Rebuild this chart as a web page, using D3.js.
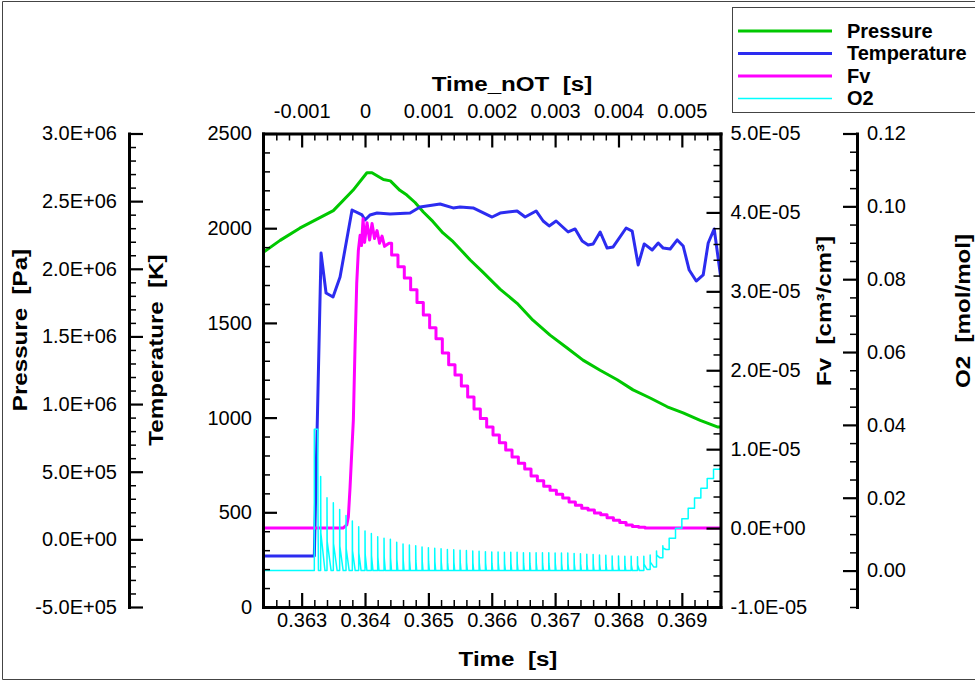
<!DOCTYPE html>
<html>
<head>
<meta charset="utf-8">
<script src="https://cdn.jsdelivr.net/npm/d3@7"></script>
<style>
  body { margin: 0; background: #fff; }
  svg { display: block; font-family: "Liberation Sans", Arial, Helvetica, sans-serif; }
</style>
</head>
<body>
<svg id="chart" width="975" height="682"></svg>
<script>
// ---------------- data ----------------
const timeDomain = [0.36239, 0.36961];   // s
const nOTOffset = 0.364;                  // Time_nOT = Time - offset

// Pressure [Pa]
const pressureTime = [0.36239, 0.36266, 0.36297, 0.36350, 0.36381, 0.36403, 0.36411, 0.36429,
  0.36440, 0.36455, 0.36466, 0.36479, 0.36492, 0.36507, 0.36523, 0.36539, 0.36555, 0.36566,
  0.36586, 0.36613, 0.36640, 0.36665, 0.36692, 0.36719, 0.36744, 0.36771, 0.36798, 0.36823,
  0.36850, 0.36877, 0.36902, 0.36929, 0.36957, 0.36961];
const pressureValue = [2.12e6, 2.21e6, 2.30e6, 2.43e6, 2.58e6, 2.71e6, 2.71e6, 2.66e6,
  2.65e6, 2.58e6, 2.545e6, 2.49e6, 2.42e6, 2.35e6, 2.265e6, 2.20e6, 2.12e6, 2.065e6,
  1.975e6, 1.85e6, 1.745e6, 1.62e6, 1.51e6, 1.415e6, 1.325e6, 1.25e6, 1.18e6, 1.105e6,
  1.045e6, 0.98e6, 0.935e6, 0.88e6, 0.83e6, 0.83e6];

// Temperature [K]
const temperatureTime = [0.36239, 0.36320, 0.363306, 0.363385, 0.363495, 0.363606, 0.363795,
  0.363953, 0.364000, 0.364079, 0.364190, 0.364395, 0.364711, 0.364869, 0.365185, 0.365390,
  0.365500, 0.365706, 0.366006, 0.366132, 0.366400, 0.366527, 0.366700, 0.366811, 0.366906,
  0.367016, 0.367206, 0.367316, 0.367427, 0.367521, 0.367600, 0.367711, 0.367821, 0.367916,
  0.368121, 0.368216, 0.368311, 0.368406, 0.368532, 0.368627, 0.368706, 0.368816, 0.368927,
  0.369021, 0.369116, 0.369227, 0.369337, 0.369416, 0.369511, 0.369613];
const temperatureValue = [269, 269, 1869, 1658, 1637, 1742, 2096,
  2070, 2043, 2070, 2080, 2075, 2080, 2112, 2128, 2107,
  2112, 2107, 2059, 2080, 2091, 2059, 2091, 2038, 2012,
  2038, 1980, 1996, 1932, 1911, 1917, 1980, 1895, 1901,
  2001, 1985, 1806, 1917, 1885, 1922, 1895, 1890, 1938,
  1906, 1779, 1721, 1753, 1922, 1996, 1742];

// Fv [cm3/cm3]: ramp and jagged peak, then one level per output interval
const fvRampTime = [0.36239, 0.363653, 0.363712, 0.363737, 0.363764, 0.363790, 0.363816,
  0.363843, 0.363869, 0.363895, 0.363922, 0.363945, 0.363969, 0.363993, 0.364032, 0.364072,
  0.364111, 0.364150, 0.364190, 0.364229, 0.364269, 0.364308, 0.364379];
const fvRampValue = [0, 0, 0.04e-5, 0.14e-5, 0.52e-5, 0.95e-5, 1.37e-5,
  2.32e-5, 3.10e-5, 3.52e-5, 3.71e-5, 3.58e-5, 3.92e-5, 3.62e-5, 3.87e-5, 3.65e-5,
  3.86e-5, 3.67e-5, 3.77e-5, 3.61e-5, 3.70e-5, 3.57e-5, 3.61e-5];
const fvStepStart = 0.36442;
const fvStepInterval = 0.0001;
const fvStepValue = [3.46e-5, 3.31e-5, 3.17e-5, 3.02e-5, 2.86e-5, 2.70e-5, 2.54e-5, 2.40e-5,
  2.22e-5, 2.07e-5, 1.94e-5, 1.80e-5, 1.66e-5, 1.51e-5, 1.39e-5, 1.28e-5, 1.18e-5, 1.08e-5,
  0.99e-5, 0.90e-5, 0.82e-5, 0.75e-5, 0.66e-5, 0.60e-5, 0.53e-5, 0.48e-5, 0.43e-5, 0.38e-5,
  0.33e-5, 0.29e-5, 0.25e-5, 0.23e-5, 0.19e-5, 0.17e-5, 0.13e-5, 0.10e-5, 0.07e-5, 0.04e-5,
  0.02e-5, 0.01e-5, 0];

// O2 [mol/mol]: one pulse per output interval (peak, level it relaxes to, hold and tail as fraction of interval)
const o2PulseStart = 0.3632;
const o2PulseInterval = 0.0001;
const o2Peak = [0.0388, 0.0258, 0.0200, 0.0186, 0.0168, 0.0151, 0.0136, 0.0120, 0.0109, 0.0102,
  0.0093, 0.0089, 0.0086, 0.0078, 0.0073, 0.0070, 0.0068, 0.0065, 0.0063, 0.0061,
  0.0060, 0.0058, 0.0057, 0.0056, 0.0055, 0.0054, 0.0053, 0.0052, 0.0051, 0.0051,
  0.0050, 0.0050, 0.0050, 0.0049, 0.0049, 0.0049, 0.0049, 0.0049, 0.0048, 0.0048,
  0.0048, 0.0047, 0.0046, 0.0045, 0.0044, 0.0043, 0.0042, 0.0040, 0.0040, 0.0039,
  0.0039, 0.0038, 0.0039, 0.0043, 0.0054, 0.0068, 0.0089, 0.0116, 0.0142, 0.0171,
  0.0199, 0.0226, 0.0253, 0.0278, 0.0280];
const o2Floor = [0, 0, 0, 0, 0, 0, 0, 0, 0, 0,
  0, 0, 0, 0, 0, 0, 0, 0, 0, 0,
  0, 0, 0, 0, 0, 0, 0, 0, 0, 0,
  0, 0, 0, 0, 0, 0, 0, 0, 0, 0,
  0, 0, 0, 0, 0, 0, 0, 0, 0, 0,
  0, 0, 0.0003, 0.0010, 0.0035, 0.0058, 0.0089, 0.0116, 0.0142, 0.0171,
  0.0199, 0.0226, 0.0253, 0.0278, 0.0280];
const o2Hold = [0.55];
const o2Tail = [0.65, 0.68, 0.65, 0.6, 0.55, 0.5, 0.45, 0.38, 0.3, 0.25,
  0.2, 0.2, 0.18, 0.18, 0.16, 0.16, 0.15, 0.15, 0.15, 0.15,
  0.15, 0.15, 0.15, 0.15, 0.15, 0.15, 0.15, 0.15, 0.15, 0.15,
  0.15, 0.15, 0.15, 0.15, 0.15, 0.15, 0.15, 0.15, 0.15, 0.15,
  0.15, 0.15, 0.15, 0.15, 0.15, 0.15, 0.15, 0.15, 0.15, 0.15,
  0.2, 0.3, 0.5, 0.55, 0.55, 0.5, 0, 0, 0, 0,
  0, 0, 0, 0, 0];

// Ticks
const timeTicks = [0.363, 0.364, 0.365, 0.366, 0.367, 0.368, 0.369];
const timeTickLabels = ["0.363", "0.364", "0.365", "0.366", "0.367", "0.368", "0.369"];
const nOTTicks = [-0.001, 0, 0.001, 0.002, 0.003, 0.004, 0.005];
const nOTTickLabels = ["-0.001", "0", "0.001", "0.002", "0.003", "0.004", "0.005"];
const temperatureTicks = [0, 500, 1000, 1500, 2000, 2500];
const temperatureTickLabels = ["0", "500", "1000", "1500", "2000", "2500"];
const pressureTicks = [-5e5, 0, 5e5, 1e6, 1.5e6, 2e6, 2.5e6, 3e6];
const pressureTickLabels = ["-5.0E+05", "0.0E+00", "5.0E+05", "1.0E+06", "1.5E+06", "2.0E+06", "2.5E+06", "3.0E+06"];
const fvTicks = [-1e-5, 0, 1e-5, 2e-5, 3e-5, 4e-5, 5e-5];
const fvTickLabels = ["-1.0E-05", "0.0E+00", "1.0E-05", "2.0E-05", "3.0E-05", "4.0E-05", "5.0E-05"];
const o2Ticks = [0, 0.02, 0.04, 0.06, 0.08, 0.10, 0.12];
const o2TickLabels = ["0.00", "0.02", "0.04", "0.06", "0.08", "0.10", "0.12"];

const seriesNames = ["Pressure", "Temperature", "Fv", "O2"];
const seriesColors = ["#00c800", "#2c2cf0", "#ff00ff", "#00ffff"];

// ---------------- layout ----------------
const plot = { left: 263, right: 720.5, top: 133.5, bottom: 607 };
const svg = d3.select("#chart");
const FONT = '"Liberation Sans", Arial, Helvetica, sans-serif';

const x = d3.scaleLinear().domain(timeDomain).range([plot.left, plot.right]);
const xTop = d3.scaleLinear().domain(timeDomain.map(t => t - nOTOffset)).range([plot.left, plot.right]);
const yT = d3.scaleLinear().domain([0, 2500]).range([plot.bottom, plot.top]);
const yP = d3.scaleLinear().domain([-5e5, 3e6]).range([plot.bottom, plot.top]);
const yFv = d3.scaleLinear().domain([-1e-5, 5e-5]).range([plot.bottom, plot.top]);
const yO2 = d3.scaleLinear().domain([-0.01, 0.12]).range([plot.bottom, plot.top]);

// outer frame (top, left, bottom edges)
svg.append("path").attr("d", "M975,1.5H2.5V679.5H975")
  .attr("fill", "none").attr("stroke", "#444").attr("stroke-width", 1);

// ---------------- data lines ----------------
svg.append("clipPath").attr("id", "plotClip").append("rect")
  .attr("x", plot.left).attr("y", plot.top)
  .attr("width", plot.right - plot.left).attr("height", plot.bottom - plot.top);
const lines = svg.append("g").attr("clip-path", "url(#plotClip)");

function drawLine(points, yScale, color, width) {
  lines.append("path")
    .attr("d", d3.line().x(d => x(d[0])).y(d => yScale(d[1]))(points))
    .attr("fill", "none").attr("stroke", color).attr("stroke-width", width)
    .attr("stroke-linejoin", "round");
}

// Pressure
drawLine(pressureTime.map((t, i) => [t, pressureValue[i]]), yP, seriesColors[0], 3);

// Temperature
drawLine(temperatureTime.map((t, i) => [t, temperatureValue[i]]), yT, seriesColors[1], 3);

// Fv: ramp, then held levels
const fvPts = fvRampTime.map((t, i) => [t, fvRampValue[i]]);
let fvPrev = fvRampValue[fvRampValue.length - 1];
fvStepValue.forEach((v, k) => {
  const t = fvStepStart + k * fvStepInterval;
  fvPts.push([t, fvPrev], [t, v]);
  fvPrev = v;
});
fvPts.push([timeDomain[1], fvPrev]);
drawLine(fvPts, yFv, seriesColors[2], 3);

// O2 pulses
const o2Pts = [[timeDomain[0], 0]];
o2Peak.forEach((p, k) => {
  const t = o2PulseStart + k * o2PulseInterval;
  const prev = k ? o2Floor[k - 1] : 0;
  const f = o2Floor[k];
  o2Pts.push([t, prev], [t, p]);
  if (p > f) {
    const hold = (o2Hold[k] || 0) * o2PulseInterval;
    const tail = Math.max(o2Tail[k] * o2PulseInterval, hold + 0.08 * o2PulseInterval);
    if (hold > 0) o2Pts.push([t + hold, p]);
    o2Pts.push([t + hold + 0.03 * o2PulseInterval, f + 0.4 * (p - f)]);
    o2Pts.push([t + tail, f]);
  }
});
o2Pts.push([timeDomain[1], o2Floor[o2Floor.length - 1]]);
drawLine(o2Pts, yO2, seriesColors[3], 1.5);

// ---------------- axes ----------------
function minorValues(start, stop, step, majors) {
  const n = Math.round((stop - start) / step);
  const out = [];
  for (let i = 0; i <= n; i++) {
    const v = start + i * step;
    if (!majors.some(m => Math.abs(m - v) < step * 1e-3)) out.push(v);
  }
  return out;
}

function addAxis(axisFn, scale, pos, majors, labels, minors, padding) {
  const lab = new Map(majors.map((m, i) => [m, labels[i]]));
  const gMinor = svg.append("g").attr("transform", pos)
    .call(axisFn(scale).tickValues(minors).tickSize(-7).tickSizeOuter(0).tickFormat(""));
  gMinor.select(".domain").remove();
  gMinor.selectAll(".tick line").attr("stroke", "#000").attr("stroke-width", 1.5);
  const g = svg.append("g").attr("transform", pos)
    .call(axisFn(scale).tickValues(majors).tickSize(-14).tickSizeOuter(0)
      .tickPadding(padding).tickFormat(d => lab.get(d)));
  g.attr("font-family", FONT).attr("font-size", 20);
  g.select(".domain").attr("stroke", "#000").attr("stroke-width", 3).attr("stroke-linecap", "square");
  g.selectAll(".tick line").attr("stroke", "#000").attr("stroke-width", 2.2);
  g.selectAll(".tick text").attr("fill", "#000");
  return g;
}

// bottom: Time
addAxis(d3.axisBottom, x, `translate(0,${plot.bottom})`, timeTicks, timeTickLabels,
  minorValues(0.3626, 0.3696, 0.0002, timeTicks), 6);
// top: Time_nOT
addAxis(d3.axisTop, xTop, `translate(0,${plot.top})`, nOTTicks, nOTTickLabels,
  minorValues(-0.0016, 0.0056, 0.0002, nOTTicks), 16);
// left: Temperature
addAxis(d3.axisLeft, yT, `translate(${plot.left},0)`, temperatureTicks, temperatureTickLabels,
  minorValues(0, 2500, 100, temperatureTicks), 11);
// right: Fv
addAxis(d3.axisRight, yFv, `translate(${plot.right},0)`, fvTicks, fvTickLabels,
  minorValues(-1e-5, 5e-5, 2e-6, fvTicks), 10);
// far left: Pressure
addAxis(d3.axisLeft, yP, `translate(129,0)`, pressureTicks, pressureTickLabels,
  minorValues(-5e5, 3e6, 1e5, pressureTicks), 12);
// far right: O2
addAxis(d3.axisRight, yO2, `translate(857,0)`, o2Ticks, o2TickLabels,
  minorValues(-0.01, 0.12, 0.005, o2Ticks), 10);

// ---------------- axis titles ----------------
function title(text, tx, ty, rotate) {
  svg.append("text")
    .attr("transform", `translate(${tx},${ty})` + (rotate ? " rotate(-90)" : "") + " scale(1.15,1)")
    .attr("text-anchor", "middle")
    .attr("font-family", FONT).attr("font-size", 21).attr("font-weight", "bold")
    .style("white-space", "pre")
    .attr("fill", "#000")
    .text(text);
}
title("Time_nOT  [s]", 512, 91, false);
title("Time  [s]", 508, 666, false);
title("Pressure  [Pa]", 27, 330, true);
title("Temperature  [K]", 163, 350, true);
title("Fv  [cm\u00b3/cm\u00b3]", 831, 311, true);
title("O2  [mol/mol]", 970, 311, true);

// ---------------- legend ----------------
const legend = svg.append("g");
legend.append("rect").attr("x", 732.5).attr("y", 7.5).attr("width", 260).attr("height", 105)
  .attr("fill", "#fff").attr("stroke", "#444").attr("stroke-width", 1);
const legendY = [31, 53.5, 76, 98.5];
seriesNames.forEach((name, i) => {
  legend.append("line").attr("x1", 738).attr("x2", 832)
    .attr("y1", legendY[i]).attr("y2", legendY[i])
    .attr("stroke", seriesColors[i]).attr("stroke-width", i === 3 ? 1.5 : 3);
  legend.append("text").attr("x", 847).attr("y", legendY[i] + 6.5)
    .attr("font-family", FONT).attr("font-size", 20).attr("font-weight", "bold")
    .attr("fill", "#000").text(name);
});
</script>
</body>
</html>
